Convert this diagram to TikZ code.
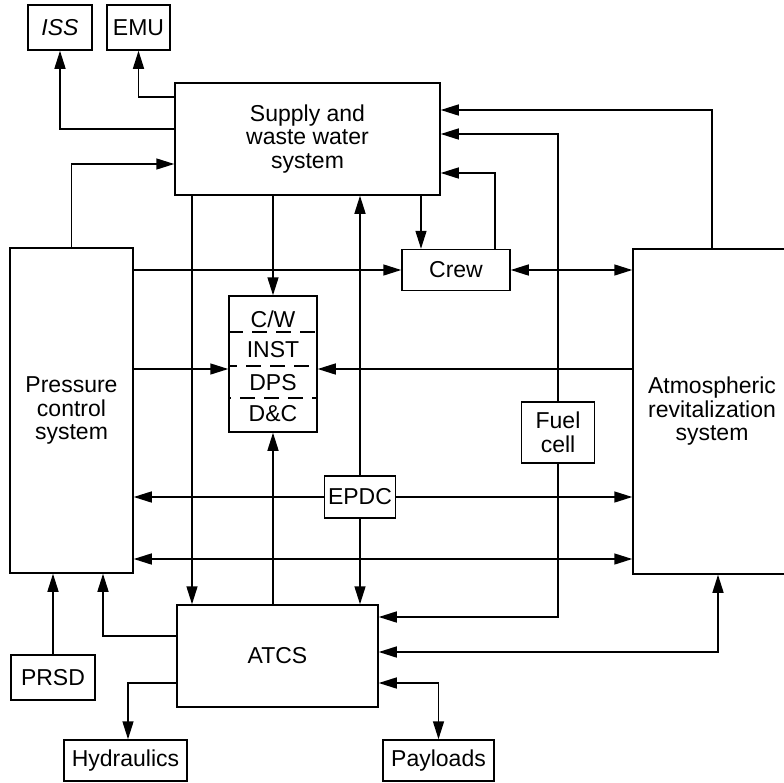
\documentclass[tikz,border=0pt]{standalone}
\usepackage{fontspec}
\setmainfont{Liberation Sans}
\usetikzlibrary{arrows.meta}
\tikzset{
  unit/.style={draw,line width=1.5pt,inner sep=2pt,align=center,font=\fontsize{23}{23.5}\selectfont},
  lbl/.style={inner sep=0pt,font=\fontsize{23}{23.5}\selectfont},
  flow/.style={line width=1.5pt,-{Triangle[length=18pt,width=11pt]}},
  both/.style={line width=1.5pt,{Triangle[length=18pt,width=11pt]}-{Triangle[length=18pt,width=11pt]}},
  sep/.style={line width=1.2pt,dash pattern=on 15pt off 9pt}
}

\begin{document}
\begin{tikzpicture}[x=1pt,y=-1pt]
\useasboundingbox (0,0) rectangle (784,782);
% the boxes
\node[unit,minimum width=64pt,minimum height=45pt] (iss) at (60,27.5) {\textit{ISS}};
\node[unit,minimum width=63pt,minimum height=45pt] (emu) at (138.5,27.5) {EMU};
\node[unit,minimum width=265pt,minimum height=112pt] (sw) at (307.5,139) {Supply and\\waste water\\system};
\node[unit,minimum width=123pt,minimum height=325pt] (pc) at (71.5,410.5) {Pressure\\control\\system};
\node[unit,minimum width=108pt,minimum height=41pt] (crew) at (456,270) {Crew};
\node[unit,minimum width=88pt,minimum height=136pt] (cw) at (273,364) {};
\node[unit,minimum width=158pt,minimum height=325pt] (ar) at (712,411.5) {Atmospheric\\revitalization\\system};
\node[unit,minimum width=73pt,minimum height=61pt] (fuel) at (558,432.5) {Fuel\\cell};
\node[unit,minimum width=71pt,minimum height=42pt] (epdc) at (360,497) {EPDC};
\node[unit,minimum width=201pt,minimum height=102pt] (atcs) at (277.5,656) {ATCS};
\node[unit,minimum width=84pt,minimum height=45pt] (prsd) at (53,677.5) {PRSD};
\node[unit,minimum width=123pt,minimum height=41pt] (hyd) at (125.5,760.5) {Hydraulics};
\node[unit,minimum width=111pt,minimum height=41pt] (pay) at (438.5,760.5) {Payloads};
% inside the display box
\node[lbl] (cwa) at (273,319) {C/W};
\node[lbl] (inst) at (273,350) {INST};
\node[lbl] (dps) at (273,383) {DPS};
\node[lbl] (dc) at (273,414) {D\&C};
\draw[sep] ([yshift=32pt]cw.west) -- ([yshift=32pt]cw.east);
\draw[sep,dash phase=6pt] ([yshift=-2pt]cw.west) -- ([yshift=-2pt]cw.east);
\draw[sep,dash phase=12pt] ([yshift=-34pt]cw.west) -- ([yshift=-34pt]cw.east);
% lanes
\coordinate (l103) at (103,0);
\coordinate (l192) at (192,0);
\coordinate (l421) at (421,0);
\coordinate (bus) at (0,559);
% water system links
\draw[flow] ([yshift=10pt]sw.west) -| (iss.south);
\draw[flow] ([yshift=42pt]sw.west) -| (emu.south);
\draw[flow] (pc.north) |- ([yshift=-25pt]sw.west);
\draw[flow] (ar.north) |- ([yshift=29pt]sw.east);
\draw[flow] (fuel.north) |- ([yshift=5pt]sw.east);
\draw[flow] ([xshift=39pt]crew.north) |- ([yshift=-34pt]sw.east);
\draw[flow] (sw.south -| l421) -- (crew.north -| l421);
\draw[flow] (sw.south -| cw.north) -- (cw.north);
\draw[flow] (sw.south -| l192) -- (atcs.north -| l192);
% crew and display
\draw[flow] (pc.east |- crew.west) -- (crew.west);
\draw[both] (crew.east) -- (ar.west |- crew.east);
\draw[flow] (pc.east |- 0,369) -- (cw.west |- 0,369);
\draw[flow] (ar.west |- 0,369) -- (cw.east |- 0,369);
% power
\draw[flow] (epdc.north) -- (sw.south -| epdc.north);
\draw[flow] (epdc.south) -- (atcs.north -| epdc.south);
\draw[flow] (epdc.west) -- (pc.east |- epdc.west);
\draw[flow] (epdc.east) -- (ar.west |- epdc.east);
\draw[both] (pc.east |- bus) -- (ar.west |- bus);
% thermal control links
\draw[flow] (atcs.north -| cw.south) -- (cw.south);
\draw[flow] (fuel.south) |- ([yshift=39pt]atcs.east);
\draw[both] ([yshift=4pt]atcs.east) -| ([xshift=6pt]ar.south);
\draw[both] ([yshift=-27pt]atcs.east) -| (pay.north);
\draw[flow] ([yshift=-27pt]atcs.west) -| ([xshift=2.5pt]hyd.north);
\draw[flow] ([yshift=20pt]atcs.west) -| (pc.south -| l103);
\draw[flow] (prsd.north) -- (pc.south -| prsd.north);
\end{tikzpicture}
\end{document}
